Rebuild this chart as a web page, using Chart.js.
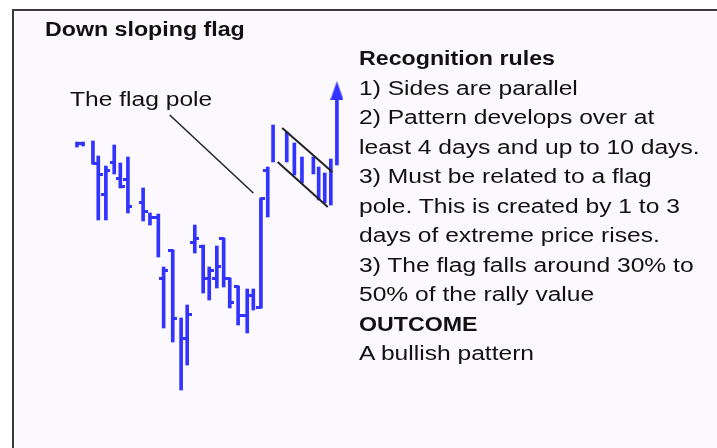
<!DOCTYPE html>
<html>
<head>
<meta charset="utf-8">
<script src="https://cdn.jsdelivr.net/npm/chart.js@4.4.1/dist/chart.umd.min.js"></script>
<style>
  html, body { margin: 0; padding: 0; background: #fff; }
  body { width: 717px; height: 448px; position: relative; overflow: hidden;
         font-family: "Liberation Sans", Arial, sans-serif; color: #111; }
  .frame { position: absolute; left: 12px; top: 9px; width: 720px; height: 450px;
           border-left: 2px solid #3a3a3a; border-top: 2px solid #3a3a3a; background: #fbf9fd; }
  #flagChart { position: absolute; left: 0; top: 0; }
  .txt { position: absolute; font-size: 20px; line-height: 23px; white-space: nowrap;
         transform-origin: 0 0; transform: scaleX(1.23); }
  .bold { font-weight: bold; transform: scaleX(1.16); }
  .rules { position: absolute; left: 359px; top: 44px; font-size: 20px; line-height: 29.5px; }
  .rules div { white-space: nowrap; transform-origin: 0 0; transform: scaleX(1.23); }
  .rules div.bold { transform: scaleX(1.16); }
</style>
</head>
<body>
<div class="frame"></div>
<canvas id="flagChart" width="717" height="448"></canvas>

<div class="txt bold" style="left:45px; top:18px;">Down sloping flag</div>
<div class="txt" style="left:70px; top:88px;">The flag pole</div>
<div class="rules">
  <div class="bold">Recognition rules</div>
  <div>1) Sides are parallel</div>
  <div>2) Pattern develops over at</div>
  <div>least 4 days and up to 10 days.</div>
  <div>3) Must be related to a flag</div>
  <div>pole. This is created by 1 to 3</div>
  <div>days of extreme price rises.</div>
  <div>3) The flag falls around 30% to</div>
  <div>50% of the rally value</div>
  <div class="bold">OUTCOME</div>
  <div>A bullish pattern</div>
</div>

<script>
// daily bars: day number, high, low, open, close (null = no tick)
const days   = [0, 0.8, 2.1, 2.8, 3.8, 4.9, 5.7, 6.7, 8.7, 9.6, 10.7, 11.4, 12.6, 13.7, 14.5,
                15.5, 16.6, 17.4, 18.4, 19.3, 20.1, 21.2, 22.4, 23.2, 24.2, 25.1, 25.8,
                27.6, 28.6, 29.6, 31.1, 31.8, 32.6, 33.4, 34.2];
const highs  = [72, 72, 72.25, 68.5, 66, 71.25, 66.75, 68.25, 60.5, 54.25, 54, 40.75, 45, 28, 31.25,
                51.25, 46.25, 40.75, 46, 48, 38, 36, 35.25, 35.25, 58, 65.75, 76.25,
                74.5, 71.75, 68.25, 68.25, 65.75, 64.25, 67.75, 82.5];
const lows   = [70.75, 71, 66.5, 52.5, 52.5, 64, 60.5, 54.25, 52.25, 51.25, 43.25, 25.5, 22, 10, 16.25,
                44.25, 34.25, 32.5, 35.5, 35.75, 30.5, 26.25, 24.25, 30, 30.5, 53.25, 67,
                67, 63.75, 61.75, 64, 57.5, 56.75, 56.25, 66.25];
const opens  = [null, 71.75, null, null, 59, 67, 63, 62.75, 57, null, 53.25, 38, 45, null, 23,
                47, 46, 38, 38, 48, 38, 36, 28.75, 33.75, 30.75, 65, null,
                null, null, null, null, null, null, null, null];
const closes = [71.75, null, 66.75, 64, 65, null, 61, 56, 54.75, 53.25, null, 40, 28, null, 29,
                48, null, 40, 41, null, 32, 28.75, null, null, 58, null, null,
                null, null, null, null, null, null, null, null];

// annotation lines
const poleLine   = [{ x: 12.2, y: 78.75 }, { x: 23.2, y: 59.25 }];
const flagTop    = [{ x: 27.0, y: 75.5 },  { x: 33.6, y: 64.5 }];
const flagBottom = [{ x: 26.4, y: 67 },    { x: 33.0, y: 55.75 }];
const arrowTip   = [{ x: 34.2, y: 84.9 }];

const BLUE = '#3333ff';

function tickImage(side) {
    const c = document.createElement('canvas');
    c.width = 9; c.height = 3;
    const g = c.getContext('2d');
    g.fillStyle = BLUE;
    g.fillRect(side === 'left' ? 0 : 4, 0, 5, 3);
    return c;
}

function arrowImage() {
    const c = document.createElement('canvas');
    c.width = 13; c.height = 19;
    const g = c.getContext('2d');
    g.fillStyle = BLUE;
    g.beginPath();
    g.moveTo(6.5, 0); g.lineTo(13, 19); g.lineTo(0, 19);
    g.closePath(); g.fill();
    return c;
}

const ranges    = days.map((d, i) => ({ x: d, y: [lows[i], highs[i]] }));
const openPts   = days.map((d, i) => ({ x: d, y: opens[i] })).filter(p => p.y !== null);
const closePts  = days.map((d, i) => ({ x: d, y: closes[i] })).filter(p => p.y !== null);

const annLine = (data, width) => ({
    type: 'line', data, borderColor: '#222', borderWidth: width,
    pointRadius: 0, fill: false, order: 0
});

new Chart(document.getElementById('flagChart'), {
    type: 'bar',
    data: {
        datasets: [
            { type: 'bar', data: ranges, backgroundColor: BLUE, borderWidth: 0,
              barThickness: 3, order: 2 },
            { type: 'scatter', data: openPts, pointStyle: tickImage('left'), pointRadius: 3, order: 1 },
            { type: 'scatter', data: closePts, pointStyle: tickImage('right'), pointRadius: 3, order: 1 },
            { type: 'scatter', data: arrowTip, pointStyle: arrowImage(), pointRadius: 6, order: 1 },
            annLine(poleLine, 1.5),
            annLine(flagTop, 2),
            annLine(flagBottom, 2)
        ]
    },
    options: {
        responsive: false,
        animation: false,
        events: [],
        layout: { padding: 0, autoPadding: false },
        plugins: { legend: { display: false }, tooltip: { enabled: false } },
        scales: {
            x: { type: 'linear', min: -10.13, max: 84.21, offset: false, display: false },
            y: { type: 'linear', min: -4.5, max: 107.5, display: false }
        }
    }
});
</script>
</body>
</html>
